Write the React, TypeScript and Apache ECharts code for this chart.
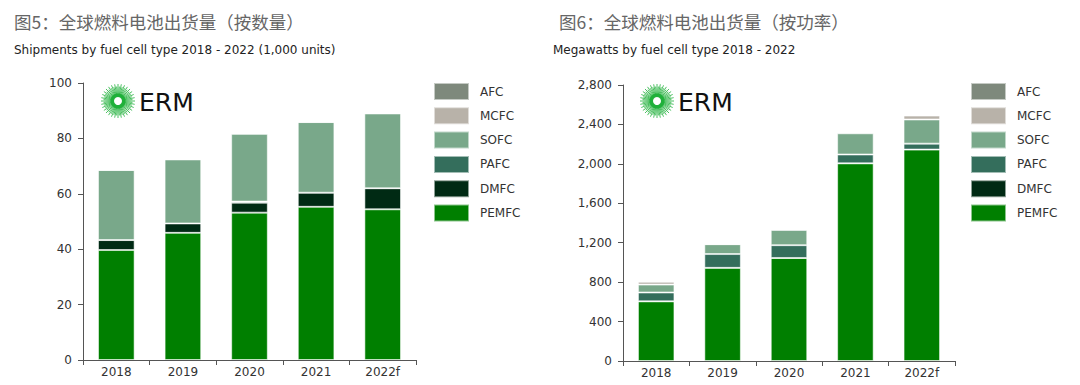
import React, { useEffect, useRef } from "react";
import * as echarts from "echarts";

const categories = ["2018", "2019", "2020", "2021", "2022f"];
const legendOrder = ["AFC", "MCFC", "SOFC", "PAFC", "DMFC", "PEMFC"];
const stackOrder = ["PEMFC", "DMFC", "PAFC", "SOFC", "MCFC", "AFC"];

// Shipments (1,000 units)
const unitsPEMFC = [39.7, 45.9, 53.2, 55.3, 54.4];
const unitsDMFC = [3.6, 3.4, 3.6, 5.1, 7.6];
const unitsPAFC = [0, 0, 0.4, 0, 0];
const unitsSOFC = [25.3, 23.1, 24.5, 25.5, 27.0];
const unitsMCFC = [0, 0, 0, 0, 0];
const unitsAFC = [0, 0, 0, 0, 0];

// Megawatts
const mwPEMFC = [605, 945, 1045, 2005, 2145];
const mwDMFC = [0, 0, 0, 0, 0];
const mwPAFC = [90, 140, 130, 90, 60];
const mwSOFC = [80, 100, 155, 215, 245];
const mwMCFC = [30, 0, 5, 10, 40];
const mwAFC = [0, 0, 0, 0, 0];

const unitsAxis = { min: 0, max: 100, interval: 20 };
const mwAxis = { min: 0, max: 2800, interval: 400 };

const title1 = "图5：全球燃料电池出货量（按数量）";
const subtitle1 = "Shipments by fuel cell type 2018 - 2022 (1,000 units)";
const title2 = "图6：全球燃料电池出货量（按功率）";
const subtitle2 = "Megawatts by fuel cell type 2018 - 2022";

const COLORS: Record<string, string> = {
  AFC: "#7e897c",
  MCFC: "#b8b2a9",
  SOFC: "#79a88a",
  PAFC: "#346e5c",
  DMFC: "#002a14",
  PEMFC: "#007f00",
};

const FONT = "'DejaVu Sans', Verdana, sans-serif";
const CJK = "'Noto Sans CJK SC', sans-serif";

function logo(cx: number, cy: number): any[] {
  const els: any[] = [];
  const n = 64;
  for (let i = 0; i < n; i++) {
    const a = (i / n) * Math.PI * 2;
    const r2 = i % 2 === 0 ? 17 : 14.5;
    els.push({
      type: "line",
      shape: {
        x1: cx + Math.cos(a) * 6,
        y1: cy + Math.sin(a) * 6,
        x2: cx + Math.cos(a) * r2,
        y2: cy + Math.sin(a) * r2,
      },
      style: { stroke: "#1fb03a", lineWidth: 0.8 },
      silent: true,
    });
  }
  els.push({ type: "circle", shape: { cx, cy, r: 7.5 }, style: { fill: "#1fb03a" }, silent: true });
  els.push({ type: "circle", shape: { cx, cy, r: 4 }, style: { fill: "#ffffff" }, silent: true });
  els.push({
    type: "text",
    x: cx + 21,
    y: cy + 1,
    style: { text: "ERM", font: `25px ${FONT}`, fill: "#111", textVerticalAlign: "middle", textAlign: "left" },
    silent: true,
  });
  return els;
}

export default function App() {
  const ref = useRef<HTMLDivElement>(null);
  useEffect(() => {
    document.body.style.margin = "0";
    if (!ref.current) return;
    const chart = echarts.init(ref.current, null, { renderer: "svg" });

    const unitsData: Record<string, number[]> = {
      PEMFC: unitsPEMFC, DMFC: unitsDMFC, PAFC: unitsPAFC, SOFC: unitsSOFC, MCFC: unitsMCFC, AFC: unitsAFC,
    };
    const mwData: Record<string, number[]> = {
      PEMFC: mwPEMFC, DMFC: mwDMFC, PAFC: mwPAFC, SOFC: mwSOFC, MCFC: mwMCFC, AFC: mwAFC,
    };

    const axisCommonX = (gridIndex: number) => ({
      type: "category",
      gridIndex,
      data: categories,
      boundaryGap: true,
      axisLine: { lineStyle: { color: "#555", width: 1 } },
      axisTick: { show: true, length: 5, alignWithLabel: false, lineStyle: { color: "#555" } },
      axisLabel: { color: "#333", fontSize: 12, fontFamily: FONT, margin: 6 },
    });
    const axisCommonY = (gridIndex: number, cfg: any, fmt: (v: number) => string) => ({
      type: "value",
      gridIndex,
      min: cfg.min,
      max: cfg.max,
      interval: cfg.interval,
      axisLine: { show: true, lineStyle: { color: "#555", width: 1 } },
      axisTick: { show: true, length: 5, inside: false, lineStyle: { color: "#555" } },
      splitLine: { show: false },
      axisLabel: { color: "#333", fontSize: 12, fontFamily: FONT, margin: 11, formatter: fmt },
    });

    const series: any[] = [];
    stackOrder.forEach((name) => {
      series.push({
        name,
        type: "bar",
        stack: "u",
        xAxisIndex: 0,
        yAxisIndex: 0,
        barWidth: "55%",
        data: unitsData[name],
        itemStyle: { color: COLORS[name], borderColor: "rgba(255,255,255,0.55)", borderWidth: 1 },
      });
      series.push({
        name,
        type: "bar",
        stack: "m",
        xAxisIndex: 1,
        yAxisIndex: 1,
        barWidth: "55%",
        data: mwData[name],
        itemStyle: { color: COLORS[name], borderColor: "rgba(255,255,255,0.55)", borderWidth: 1 },
      });
    });

    const legendCommon = {
      orient: "vertical",
      data: legendOrder,
      icon: "rect",
      itemWidth: 35,
      itemHeight: 17,
      itemGap: 5.3,
      padding: 0,
      textStyle: { color: "#333", fontSize: 12, fontFamily: FONT, padding: [0, 0, 0, 6], lineHeight: 17 },
      selectedMode: false,
    };

    chart.setOption({
      animation: false,
      backgroundColor: "#ffffff",
      grid: [
        { left: 83, top: 83, width: 333, height: 277, containLabel: false },
        { left: 623, top: 85, width: 332, height: 276, containLabel: false },
      ],
      xAxis: [axisCommonX(0), axisCommonX(1)],
      yAxis: [
        axisCommonY(0, unitsAxis, (v: number) => String(v)),
        axisCommonY(1, mwAxis, (v: number) => v.toLocaleString("en-US")),
      ],
      legend: [
        { ...legendCommon, left: 433, top: 82 },
        { ...legendCommon, left: 970, top: 82 },
      ],
      series,
      graphic: [
        {
          type: "text",
          x: 14,
          y: 21,
          style: { text: title1, font: `17.5px ${CJK}`, fill: "#666", textVerticalAlign: "middle" },
        },
        {
          type: "text",
          x: 14,
          y: 50,
          style: { text: subtitle1, font: `12px ${FONT}`, fill: "#222", textVerticalAlign: "middle" },
        },
        {
          type: "text",
          x: 559,
          y: 21,
          style: { text: title2, font: `17.5px ${CJK}`, fill: "#666", textVerticalAlign: "middle" },
        },
        {
          type: "text",
          x: 553,
          y: 50,
          style: { text: subtitle2, font: `12px ${FONT}`, fill: "#222", textVerticalAlign: "middle" },
        },
        ...logo(118, 101),
        ...logo(657, 101),
      ],
    });
    return () => chart.dispose();
  }, []);
  return <div ref={ref} style={{ width: 1080, height: 385 }} />;
}
